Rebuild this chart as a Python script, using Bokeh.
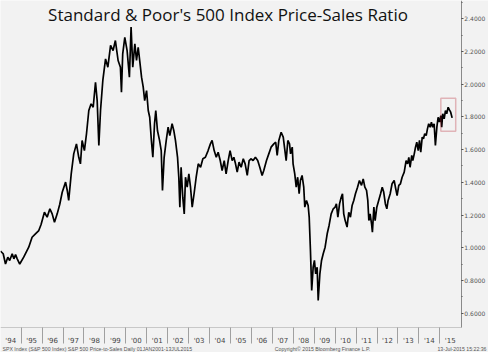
from bokeh.plotting import figure
from bokeh.models import (Range1d, FixedTicker, SingleIntervalTicker, NumeralTickFormatter,
                          Label, BoxAnnotation)
from bokeh.embed import file_html
from bokeh.resources import INLINE

# ---- data (decimal year, price/sales ratio) ----
years = [
    1994.01, 1994.14, 1994.25, 1994.36, 1994.45, 1994.57, 1994.65, 1994.73, 1994.81, 1994.93,
    1995.12, 1995.36, 1995.52, 1995.68, 1995.84, 1995.95, 1996.11, 1996.24, 1996.37, 1996.48,
    1996.59, 1996.72, 1996.84, 1996.96, 1997.12, 1997.20, 1997.27, 1997.39, 1997.51, 1997.64,
    1997.75, 1997.83, 1997.91, 1998.02, 1998.12, 1998.23, 1998.34, 1998.44, 1998.55, 1998.63,
    1998.71, 1998.79, 1998.90, 1999.03, 1999.14, 1999.27, 1999.39,
    1999.50, 1999.63, 1999.74, 1999.79, 1999.85, 1999.95, 2000.06, 2000.17, 2000.25, 2000.33,
    2000.43, 2000.51, 2000.59, 2000.67, 2000.75, 2000.83, 2000.90, 2000.99, 2001.07, 2001.14,
    2001.22, 2001.29, 2001.37, 2001.43, 2001.51, 2001.61, 2001.69, 2001.75, 2001.83, 2001.93,
    2002.02, 2002.10, 2002.21, 2002.29, 2002.37, 2002.47, 2002.53, 2002.58, 2002.64, 2002.72,
    2002.79, 2002.85, 2002.93, 2003.01, 2003.09, 2003.17, 2003.26, 2003.36, 2003.46, 2003.57,
    2003.68, 2003.80, 2003.93, 2004.04, 2004.12, 2004.22, 2004.32, 2004.41, 2004.51, 2004.60,
    2004.70, 2004.79, 2004.89, 2004.98,
    2005.08, 2005.16, 2005.24, 2005.32, 2005.41, 2005.51, 2005.61, 2005.70, 2005.80, 2005.89,
    2005.99, 2006.08, 2006.19, 2006.30, 2006.40, 2006.51, 2006.59, 2006.72, 2006.83, 2006.94,
    2007.07, 2007.16, 2007.23, 2007.31, 2007.42, 2007.52, 2007.59, 2007.66, 2007.74, 2007.82,
    2007.87, 2007.95, 2007.99, 2008.07, 2008.14, 2008.21, 2008.28, 2008.34, 2008.42, 2008.50,
    2008.55, 2008.63, 2008.71, 2008.76, 2008.82, 2008.88, 2008.95, 2009.01, 2009.07, 2009.14,
    2009.19, 2009.27, 2009.35, 2009.43, 2009.52, 2009.62, 2009.71, 2009.81, 2009.91, 2010.00,
    2010.06, 2010.13, 2010.21, 2010.29, 2010.35, 2010.41, 2010.48,
    2010.57, 2010.65, 2010.73, 2010.81, 2010.89, 2010.97, 2011.07, 2011.16, 2011.26, 2011.34,
    2011.42, 2011.50, 2011.56, 2011.61, 2011.67, 2011.74, 2011.78, 2011.85, 2011.91, 2011.99,
    2012.08, 2012.17, 2012.25, 2012.32, 2012.40, 2012.47, 2012.53, 2012.63, 2012.72, 2012.82,
    2012.88, 2012.96, 2013.04, 2013.12, 2013.20, 2013.30, 2013.39, 2013.46, 2013.52, 2013.58,
    2013.66, 2013.71, 2013.78, 2013.84, 2013.90, 2013.97, 2014.03, 2014.09, 2014.16, 2014.22,
    2014.28, 2014.35, 2014.41, 2014.47, 2014.54, 2014.60, 2014.66, 2014.73, 2014.79, 2014.86,
    2014.92, 2014.98, 2015.05, 2015.09, 2015.14, 2015.21, 2015.27, 2015.33, 2015.40, 2015.46,
    2015.52, 2015.59,
]
ratio = [
    0.979, 0.963, 0.900, 0.942, 0.922, 0.963, 0.932, 0.958, 0.932, 0.900,
    0.942, 1.003, 1.064, 1.085, 1.105, 1.142, 1.217, 1.187, 1.238, 1.207,
    1.156, 1.207, 1.264, 1.339, 1.401, 1.350, 1.289, 1.452, 1.574, 1.635,
    1.553, 1.513, 1.656, 1.594, 1.697, 1.839, 1.880, 1.859, 2.012, 1.900,
    1.625, 1.839, 2.023, 2.155, 2.104, 2.237, 2.206,
    2.267, 2.145, 2.104, 1.951, 2.186, 2.287, 2.206, 2.043, 2.349, 2.104,
    2.247, 2.145, 2.226, 2.135, 2.043, 1.982, 1.900, 1.961, 1.839, 1.798,
    1.656, 1.553, 1.758, 1.839, 1.717, 1.656, 1.594, 1.350, 1.553, 1.656,
    1.737, 1.686, 1.758, 1.717, 1.656, 1.553, 1.431, 1.248, 1.492, 1.309,
    1.207, 1.431, 1.370, 1.452, 1.370, 1.248, 1.330, 1.431, 1.513, 1.492,
    1.544, 1.553, 1.594, 1.635, 1.656, 1.594, 1.553, 1.584, 1.533, 1.472,
    1.533, 1.452, 1.533, 1.594,
    1.533, 1.553, 1.513, 1.462, 1.523, 1.492, 1.544, 1.513, 1.442, 1.533,
    1.544, 1.533, 1.553, 1.533, 1.492, 1.442, 1.472, 1.533, 1.574, 1.615,
    1.635, 1.645, 1.564, 1.656, 1.706, 1.676, 1.605, 1.533, 1.656, 1.635,
    1.574, 1.615, 1.513, 1.452, 1.370, 1.431, 1.330, 1.411, 1.442, 1.370,
    1.248, 1.289, 1.258, 1.187, 0.983, 0.738, 0.881, 0.922, 0.840, 0.881,
    0.677, 0.840, 0.922, 0.963, 1.003, 1.085, 1.136, 1.207, 1.238, 1.248,
    1.268, 1.187, 1.268, 1.309, 1.330, 1.207, 1.166,
    1.126, 1.217, 1.187, 1.258, 1.289, 1.330, 1.370, 1.411, 1.381, 1.421,
    1.370, 1.350, 1.289, 1.166, 1.207, 1.146, 1.095, 1.248, 1.166, 1.248,
    1.289, 1.330, 1.370, 1.340, 1.268, 1.238, 1.289, 1.330, 1.391, 1.411,
    1.370, 1.319, 1.381, 1.391, 1.431, 1.462, 1.533, 1.513, 1.553, 1.492,
    1.564, 1.533, 1.574, 1.615, 1.645, 1.594, 1.656, 1.584, 1.676, 1.666,
    1.697, 1.686, 1.727, 1.758, 1.737, 1.768, 1.737, 1.758, 1.625, 1.737,
    1.798, 1.768, 1.808, 1.737, 1.819, 1.788, 1.839, 1.819, 1.859, 1.843,
    1.829, 1.794,
]
year_labels = ["'94", "'95", "'96", "'97", "'98", "'99", "'00", "'01", "'02", "'03", "'04",
               "'05", "'06", "'07", "'08", "'09", "'10", "'11", "'12", "'13", "'14", "'15"]
first_year = 1994
# highlighted recent window (red box)
box_x0, box_x1 = 2015.05, 2015.76
box_y0, box_y1 = 1.712, 1.914

title_text = "Standard & Poor's 500 Index Price-Sales Ratio"
foot_texts = ["SPX Index (S&P 500 Index) S&P 500 Price-to-Sales  Daily 01JAN2001-13JUL2015",
              "Copyright\u00a9 2015 Bloomberg Finance L.P.",
              "13-Jul-2015 15:22:36"]

BG = "#f2f2f2"

# axis extents (the plot frame covers the whole canvas; axes sit at fixed locations)
X_START, X_AXIS_END, X_VIEW_END = 1994.011, 2016.03, 2017.327
Y_AXIS_MIN, Y_TOP, Y_VIEW_MIN = 0.512, 2.512, 0.359

p = figure(width=488, height=352, output_backend="svg", toolbar_location=None,
           y_axis_location="right",
           x_range=Range1d(X_START, X_VIEW_END), y_range=Range1d(Y_VIEW_MIN, Y_TOP),
           min_border=0)
p.background_fill_color = BG
p.border_fill_color = BG
p.outline_line_color = None
p.xgrid.visible = False
p.ygrid.visible = False

p.line(years, ratio, line_color="black", line_width=1.7)

p.add_layout(BoxAnnotation(left=box_x0, right=box_x1, bottom=box_y0, top=box_y1,
                           fill_alpha=0, line_color="#b5222d", line_width=1.5))

# y axis (right)
ya = p.yaxis[0]
ya.fixed_location = X_AXIS_END
ya.bounds = (Y_AXIS_MIN, Y_TOP)
ya.ticker = SingleIntervalTicker(interval=0.2, num_minor_ticks=2)
ya.formatter = NumeralTickFormatter(format="0.0000")
ya.axis_line_color = "#8a8a8a"
ya.major_tick_line_color = "#555555"
ya.minor_tick_line_color = "#555555"
ya.major_tick_out = 2
ya.major_tick_in = 0
ya.minor_tick_out = 1
ya.minor_tick_in = 0
ya.major_label_standoff = 1
ya.major_label_text_font = "DejaVu Sans"
ya.major_label_text_font_size = "6px"
ya.major_label_text_color = "#555555"

# x axis
mids = [first_year + i + 0.5 for i in range(len(year_labels))]
bounds = [first_year + i for i in range(1, len(year_labels))]
xa = p.xaxis[0]
xa.fixed_location = Y_AXIS_MIN
xa.bounds = (X_START, X_AXIS_END)
xa.ticker = FixedTicker(ticks=mids, minor_ticks=bounds)
xa.major_label_overrides = {m: lab for m, lab in zip(mids, year_labels)}
xa.axis_line_color = "#c8c8c8"
xa.major_tick_out = 0
xa.major_tick_in = 0
xa.minor_tick_out = 16
xa.minor_tick_in = 0
xa.minor_tick_line_color = "#a0a0a0"
xa.major_label_standoff = -6
xa.major_label_text_font = "DejaVu Sans"
xa.major_label_text_font_size = "7px"
xa.major_label_text_color = "#444444"

# title
p.add_layout(Label(x=227.5, y=338, x_units="screen", y_units="screen", text=title_text,
                   text_align="center", text_baseline="middle", text_font="Open Sans",
                   text_font_size="17px", text_color="#111111"))

# footer
for txt, xx, al in zip(foot_texts, [2, 322, 486], ["left", "center", "right"]):
    p.add_layout(Label(x=xx, y=4, x_units="screen", y_units="screen", text=txt,
                       text_align=al, text_baseline="middle", text_font="Liberation Sans",
                       text_font_size="5.2px", text_color="#555555"))

open("out.html", "w").write(file_html(p, INLINE))
